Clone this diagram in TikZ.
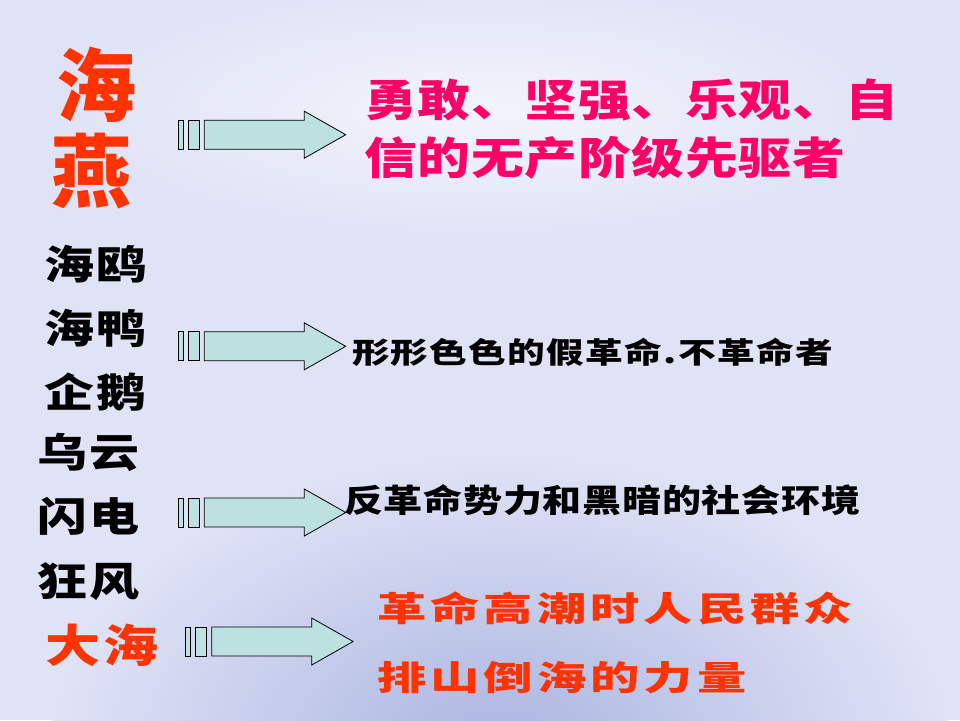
\documentclass[tikz,border=0pt]{standalone}
\usepackage{fontspec}
\newfontfamily\cjk{Noto Sans CJK SC}
\definecolor{bgcol}{HTML}{E0E3F6}
\definecolor{cloudcol}{HTML}{AAB5E0}
\definecolor{arrowfill}{HTML}{BDE0E0}
\definecolor{redor}{HTML}{FF3300}
\definecolor{magen}{HTML}{FF0066}
\makeatletter
\def\spaced#1#2{\def\chsep{#1}\spaced@aux#2\relax\unskip}
\def\spaced@aux#1{\ifx\relax#1\else #1\hskip\chsep\relax\expandafter\spaced@aux\fi}
\makeatother
\tikzset{
  txt/.style={inner sep=0pt, outer sep=0pt, anchor=base west, font=\cjk\bfseries},
  blockarrow/.pic={
    \draw[line width=0.8pt, fill=arrowfill] (0,-14.5) rectangle (5,14.5);
    \draw[line width=0.8pt, fill=arrowfill] (10,-14.5) rectangle (21,14.5);
    \draw[line width=0.8pt, fill=arrowfill, line join=miter]
      (26,-14.5) -- (126,-14.5) -- (126,-23.5) -- (167.4,0) -- (126,23.5) -- (126,14.5) -- (26,14.5) -- cycle;
  }
}
\begin{document}
\begin{tikzpicture}[x=1pt,y=-1pt]
\useasboundingbox (0,0) rectangle (960,720);
\fill[bgcol] (0,0) rectangle (960,720);
\begin{scope}
\clip (0,0) rectangle (960,720);
\shade[inner color=cloudcol, outer color=bgcol] (500,745) ellipse [x radius=450, y radius=290];
\shade[inner color=white!60!bgcol, outer color=bgcol] (480,110) ellipse [x radius=420, y radius=130];
\end{scope}

% title
\node[inner sep=0pt, anchor=base, text=redor, font=\cjk\bfseries] (t1) at (96,115.4) {\fontsize{80}{84}\selectfont 海};
\node[inner sep=0pt, anchor=base, text=redor, font=\cjk\bfseries] (t2) at (91,201.4) {\fontsize{80}{84}\selectfont 燕};

% left column
\node[txt, xscale=1.25] (a1) at (44,279.2) {\fontsize{40}{44}\selectfont\spaced{2.4pt}{海鸥}};
\node[txt, xscale=1.25] (a2) at (44,343.2) {\fontsize{40}{44}\selectfont\spaced{2.4pt}{海鸭}};
\node[txt, xscale=1.25] (a3) at (44,407.2) {\fontsize{40}{44}\selectfont\spaced{2.4pt}{企鹅}};
\node[txt, xscale=1.25] (a4) at (37,467.2) {\fontsize{40}{44}\selectfont\spaced{2.4pt}{乌云}};
\node[txt, xscale=1.25] (a5) at (37,531.2) {\fontsize{40}{44}\selectfont\spaced{2.4pt}{闪电}};
\node[txt, xscale=1.25] (a6) at (37,596.2) {\fontsize{40}{44}\selectfont\spaced{2.4pt}{狂风}};
\node[txt, xscale=1.22, text=redor] (a7) at (45,662.1) {\fontsize{45}{48}\selectfont\spaced{3pt}{大海}};

% arrows
\pic at (178.3,134.7) {blockarrow};
\pic at (178.3,346.3) {blockarrow};
\pic at (178.3,512.5) {blockarrow};
\pic at (185.7,641.5) {blockarrow};

% right texts
\node[txt, xscale=1.2, text=magen] (b1) at (364,116.7) {\fontsize{44}{48}\selectfont\spaced{0.6pt}{勇敢、坚强、乐观、自}};
\node[txt, xscale=1.2, text=magen] (b2) at (364,174.7) {\fontsize{44}{48}\selectfont\spaced{0.6pt}{信的无产阶级先驱者}};
\node[txt, xscale=1.3] (c1) at (352,363) {\fontsize{29}{32}\selectfont\spaced{1pt}{形形色色的假革命.不革命者}};
\node[txt, xscale=1.22] (d1) at (344,512.2) {\fontsize{32}{36}\selectfont\spaced{0.6pt}{反革命势力和黑暗的社会环境}};
\node[txt, xscale=1.45, text=redor] (e1) at (377,621.9) {\fontsize{34}{38}\selectfont\spaced{2.8pt}{革命高潮时人民群众}};
\node[txt, xscale=1.45, text=redor] (e2) at (377,690.9) {\fontsize{34}{38}\selectfont\spaced{2.8pt}{排山倒海的力量}};
\end{tikzpicture}
\end{document}
